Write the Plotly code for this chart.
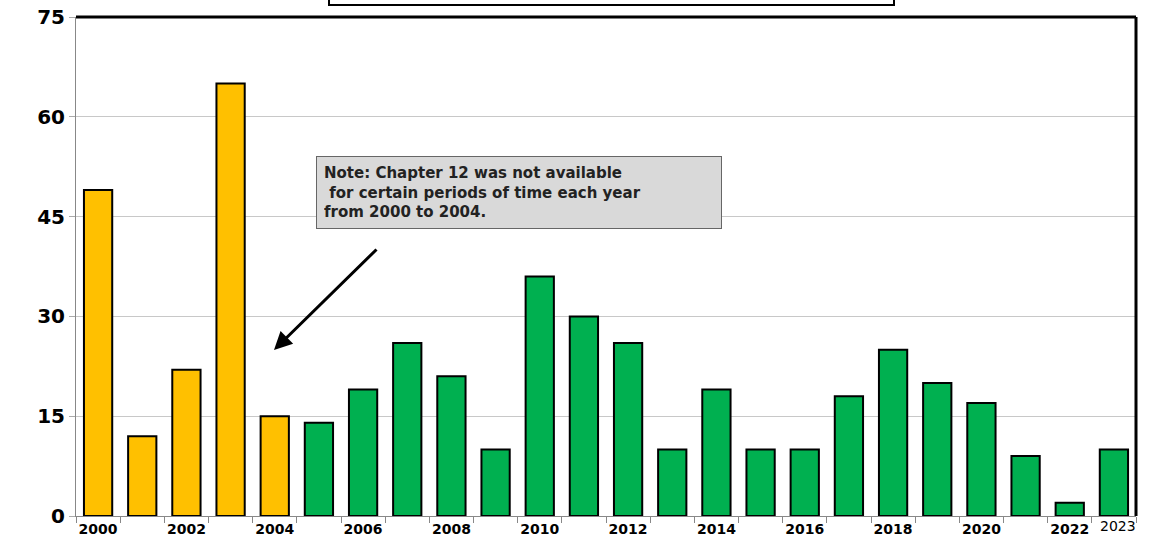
import plotly.graph_objects as go

years = list(range(2000, 2024))
values = [49, 12, 22, 65, 15, 14, 19, 26, 21, 10, 36, 30, 26, 10, 19, 10, 10, 18, 25, 20, 17, 9, 2, 10]
colors = ["#FFC000" if y <= 2004 else "#00B050" for y in years]
tick_years = list(range(2000, 2023, 2))
y_ticks = [0, 15, 30, 45, 60, 75]

fig = go.Figure(go.Bar(x=years, y=values, marker=dict(color=colors, line=dict(color="black", width=2)), width=0.64))

W, H = 1153, 550
l, r, t, b = 76, W - 1136, 17, H - 516
fig.update_layout(
    width=W, height=H, margin=dict(l=l, r=r, t=t, b=b, autoexpand=False),
    plot_bgcolor="white", paper_bgcolor="white", showlegend=False,
    font=dict(family="DejaVu Sans", color="black"),
    xaxis=dict(range=[1999.5, 2023.5], tickvals=tick_years, ticktext=[str(y) for y in tick_years],
               ticks="", tickfont=dict(size=14, family="DejaVu Sans", weight="bold"), automargin=False,
               minor=dict(tick0=1999.5, dtick=1, ticks="outside", ticklen=6, tickcolor="#888"),
               showline=True, linecolor="#888", linewidth=1, showgrid=False, zeroline=False),
    yaxis=dict(range=[0, 75], tickvals=y_ticks, tickfont=dict(size=20, family="DejaVu Sans", weight="bold"),
               ticks="outside", ticklen=6, tickcolor="#aaa", showgrid=True, gridcolor="#c8c8c8", automargin=False,
               showline=True, linecolor="#888", linewidth=1, zeroline=False),
)
fig.add_shape(type="line", xref="paper", yref="paper", x0=0, x1=1, y0=1, y1=1, line=dict(color="black", width=3))
fig.add_shape(type="line", xref="paper", yref="paper", x0=1, x1=1, y0=0, y1=1, line=dict(color="black", width=3))
# cut-off title box at top
fig.add_shape(type="rect", xref="paper", yref="paper",
              x0=(329 - l) / 1060, x1=(894 - l) / 1060, y0=(516 - 5) / 499, y1=(516 + 30) / 499,
              line=dict(color="black", width=2), fillcolor="white")
fig.add_annotation(x=2023.1, y=0, yref="y", xref="x", text="2023", showarrow=False,
                   yshift=0, yanchor="top", font=dict(size=14, family="DejaVu Sans"), xanchor="center")
fig.add_annotation(xref="paper", yref="paper", x=(316 - l) / 1060, y=(516 - 192) / 499,
                   text="<b>Note: Chapter 12 was not available<br> for certain periods of time each year<br>from 2000 to 2004.</b>",
                   showarrow=False, align="left", xanchor="left", yanchor="middle",
                   bgcolor="#D9D9D9", bordercolor="#666", borderwidth=1, borderpad=7,
                   font=dict(size=15, family="DejaVu Sans", color="#222"), width=390)
fig.add_annotation(xref="paper", yref="paper", axref="pixel", ayref="pixel",
                   x=(274 - l) / 1060, y=(516 - 350) / 499, ax=104, ay=-102,
                   text="", showarrow=True, arrowhead=2, arrowsize=1.2, arrowwidth=3, arrowcolor="black")
fig.write_html("out.html", config={"displayModeBar": False}, post_script="document.body.style.margin='0';")
